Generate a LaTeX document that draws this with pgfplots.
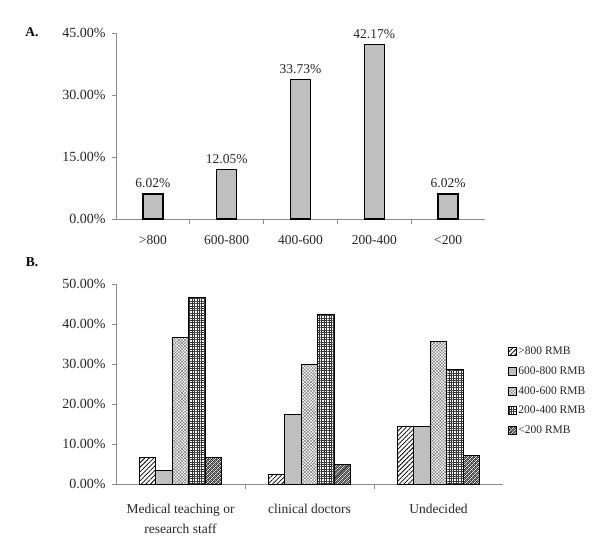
\documentclass[border=0pt]{standalone}
\usepackage{pgfplots}
\pgfplotsset{compat=1.18}
\usepackage{fontspec}
\setmainfont{Liberation Serif}
\usetikzlibrary{patterns,patterns.meta}
\tikzdeclarepattern{name=darkcheck, type=uncolored,
  bottom left={(0bp,0bp)}, top right={(3bp,3bp)}, tile size={(3bp,3bp)}, tile transformation={rotate=45},
  code={\fill[even odd rule] (0bp,0bp) rectangle (3bp,3bp) (0.7bp,0.7bp) rectangle (2.3bp,2.3bp);}}
\pgfplotsset{sqlegend/.style={legend image code/.code={\draw[##1,line width=0.6bp] (0bp,-4bp) rectangle (8bp,4bp);}}}
\newcommand{\tfont}{\fontsize{13.5bp}{19.5bp}\selectfont}
\newcommand{\yfont}{\fontsize{14bp}{16bp}\selectfont}
\begin{document}
\begin{tikzpicture}
\path[use as bounding box] (0bp,0bp) rectangle (600bp,553bp);
\node[font=\bfseries\fontsize{13.5bp}{15bp}\selectfont] at (32bp,521bp) {A.};
\node[font=\bfseries\fontsize{13.5bp}{15bp}\selectfont] at (32bp,291bp) {B.};
% ---------- A ----------
\begin{axis}[
  at={(116bp,334bp)}, anchor=south west, scale only axis,
  width=369bp, height=186bp,
  xmin=0.5, xmax=5.5, ymin=0, ymax=45,
  axis x line*=bottom, axis y line*=left,
  axis line style={gray!90, -, line width=0.8bp},
  tick align=outside,
  xtick={1,2,3,4,5},
  xticklabels={>800,600-800,400-600,200-400,<200},
  major x tick style={draw=none},
  minor xtick={1.5,2.5,3.5,4.5},
  minor tick length=5bp,
  minor x tick style={gray!90, line width=0.8bp},
  ytick={0,15,30,45},
  yticklabels={0.00\%,15.00\%,30.00\%,45.00\%},
  major tick length=4bp,
  y tick style={gray!90, line width=0.8bp},
  tick label style={font=\tfont, text=black!85},
  yticklabel style={font=\yfont, xshift=-3bp},
  xticklabel style={yshift=-9bp},
  ybar, bar width=20bp,
  point meta=explicit symbolic,
  nodes near coords,
  nodes near coords style={font=\tfont, text=black!85, yshift=2bp},
  clip=false,
]
\addplot[draw=black, line width=1.3bp, fill=gray!50] coordinates {
  (1,6.02) [6.02\%]
  (2,12.05) [12.05\%]
  (3,33.73) [33.73\%]
  (4,42.17) [42.17\%]
  (5,6.02) [6.02\%]
};
\end{axis}
% ---------- B ----------
\begin{axis}[
  at={(116bp,69bp)}, anchor=south west, scale only axis,
  width=387bp, height=200bp,
  xmin=0.5, xmax=3.5, ymin=0, ymax=50,
  axis x line*=bottom, axis y line*=left,
  axis line style={gray!90, -, line width=0.8bp},
  tick align=outside,
  xtick={1,2,3},
  xticklabels={{Medical teaching or\\research staff},{clinical doctors},{Undecided}},
  major x tick style={draw=none},
  minor xtick={1.5,2.5},
  minor tick length=5bp,
  minor x tick style={gray!90, line width=0.8bp},
  ytick={0,10,20,30,40,50},
  yticklabels={0.00\%,10.00\%,20.00\%,30.00\%,40.00\%,50.00\%},
  major tick length=4bp,
  y tick style={gray!90, line width=0.8bp},
  tick label style={font=\tfont, text=black!85},
  yticklabel style={font=\yfont, xshift=-3bp},
  xticklabel style={yshift=-13bp, align=center},
  ybar=0pt, bar width=16.5bp,
  legend style={at={(1.012,0.695)}, anchor=north west, draw=none,
    font=\fontsize{11.5bp}{13bp}\selectfont, text=black!85,
    row sep=6.5bp, inner sep=0pt,
    legend cell align=left},
  clip=false,
]
\addplot[sqlegend, draw=black, line width=0.7bp, pattern={Lines[angle=45,distance=3.2bp,line width=0.8bp]}]
  coordinates {(1,6.67) (2,2.5) (3,14.29)};
\addplot[sqlegend, draw=black, line width=0.7bp, fill=gray!50]
  coordinates {(1,3.33) (2,17.5) (3,14.29)};
\addplot[sqlegend, draw=black, line width=0.7bp, pattern={Hatch[angle=45,distance=2.2bp,line width=0.4bp]}, pattern color=black!55]
  coordinates {(1,36.67) (2,30) (3,35.71)};
\addplot[sqlegend, draw=black, line width=0.7bp, pattern={Hatch[angle=0,distance=2.4bp,line width=0.55bp]}, pattern color=black!80]
  coordinates {(1,46.67) (2,42.5) (3,28.57)};
\addplot[sqlegend, draw=black, line width=0.7bp, pattern=darkcheck]
  coordinates {(1,6.67) (2,5) (3,7.14)};
\legend{>800 RMB,600-800 RMB,400-600 RMB,200-400 RMB,<200 RMB}
\end{axis}
\end{tikzpicture}
\end{document}
